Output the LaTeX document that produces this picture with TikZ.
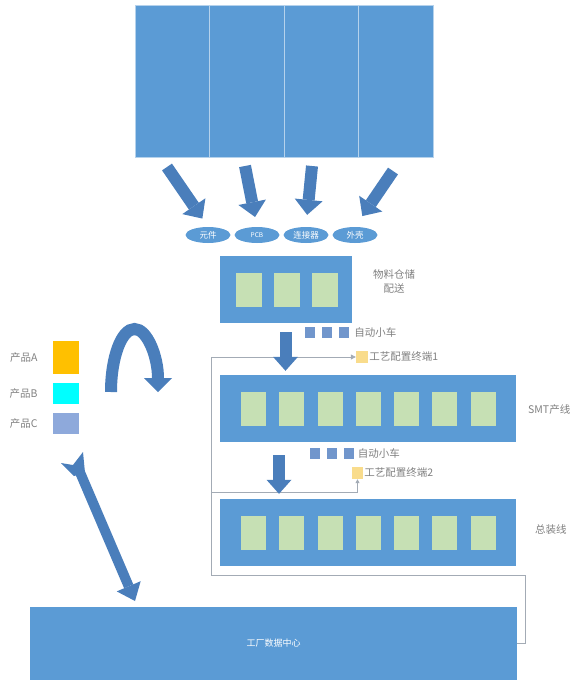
\documentclass[tikz,border=0pt]{standalone}
\usepackage{fontspec}
\setmainfont{Noto Sans CJK SC}
\usetikzlibrary{arrows.meta,positioning,shapes.geometric}
\definecolor{panelblue}{HTML}{5B9BD5}
\definecolor{arrowblue}{HTML}{4A7EBB}
\definecolor{slotgreen}{HTML}{C6E0B4}
\definecolor{cartblue}{HTML}{7196CC}
\definecolor{termyellow}{HTML}{F9DC8C}
\definecolor{wiregray}{HTML}{A3ABB5}
\definecolor{labelgray}{HTML}{808080}
\definecolor{prodA}{HTML}{FFC000}
\definecolor{prodB}{HTML}{00FFFF}
\definecolor{prodC}{HTML}{8EA9DB}
\tikzset{
    panel/.style={fill=panelblue,draw=none,inner sep=0pt},
    slot/.style={fill=slotgreen,minimum width=25pt,minimum height=34pt,inner sep=0pt},
    cart/.style={fill=cartblue,minimum width=10pt,minimum height=11pt,inner sep=0pt},
    term/.style={fill=termyellow,minimum width=12pt,minimum height=12pt,inner sep=0pt},
    swatch/.style={minimum width=26pt,minimum height=21pt,inner sep=0pt},
    tag/.style={text=labelgray,font=\fontsize{10.5}{14}\selectfont,inner sep=0pt,anchor=west},
    part/.style={ellipse,fill=panelblue,minimum width=45pt,minimum height=16pt,inner sep=0pt,text=white,font=\fontsize{8.5}{10}\selectfont},
    feed/.style={draw=arrowblue,line width=12pt,-{Triangle[length=15pt,width=28pt,line width=0pt]}},
    drop/.style={draw=arrowblue,line width=12pt,-{Triangle[length=14pt,width=25pt,line width=0pt]}},
    wire/.style={draw=wiregray,line width=0.8pt},
}
\begin{document}
\begin{tikzpicture}[x=1pt,y=-1pt]
    \useasboundingbox (0,0) rectangle (580,685);

    \foreach \i/\x in {1/172.25,2/246.75,3/321.25,4/395.75}
        \node[panel,draw=white!55!panelblue,line width=0.8pt,minimum width=74.5pt,minimum height=152pt] (c\i) at (\x,81) {};

    \node[part] (e1) at (208,235) {元件};
    \node[part,font=\fontsize{6.5}{8}\selectfont] (e2) at (257,235) {PCB};
    \node[part] (e3) at (306,235) {连接器};
    \node[part] (e4) at (355,235) {外壳};

    \coordinate (t1) at (167,167);
    \coordinate (t2) at (245,166);
    \coordinate (t3) at (312,166);
    \coordinate (t4) at (393,171);
    \draw[feed,shorten >=10pt] (t1) -- (e1.north);
    \draw[feed,shorten >=10pt] (t2) -- (e2.north);
    \draw[feed,shorten >=12pt] (t3) -- (e3.north);
    \draw[feed,shorten >=13pt] (t4) -- (e4.north);

    \node[panel,minimum width=132pt,minimum height=67pt] (store) at (286,289.5) {};
    \foreach \i in {0,1,2}
        \node[slot,minimum width=26pt] (ws\i) at (249+38*\i,290) {};
    \node[tag,anchor=center,align=center] (storelbl) at (394,282) {物料仓储\\配送};

    \foreach \i in {0,1,2}
        \node[cart] (ca\i) at (310+17*\i,332) {};
    \node[tag] (cartlbl1) [right=5pt of ca2] {自动小车};

    \node[term] (term1) at (362,357) {};
    \node[tag] (termlbl1) [right=1pt of term1] {工艺配置终端1};

    \node[panel,minimum width=296pt,minimum height=67pt] (smt) at (368,408.5) {};
    \foreach \i in {0,...,6}
        \node[slot] (sm\i) at (253.5+38.25*\i,409) {};
    \node[tag] (smtlbl) at (528,410) {SMT产线};

    \foreach \i in {0,1,2}
        \node[cart] (cb\i) at (314.5+17*\i,453.5) {};
    \node[tag] (cartlbl2) [right=4pt of cb2] {自动小车};

    \node[term,minimum width=11pt] (term2) at (357.5,473) {};
    \node[tag] (termlbl2) [right=1pt of term2] {工艺配置终端2};

    \node[panel,minimum width=296pt,minimum height=67pt] (asm) at (368,532.5) {};
    \foreach \i in {0,...,6}
        \node[slot] (as\i) at (253.5+38.25*\i,532.5) {};
    \node[tag] (asmlbl) at (535,530) {总装线};

    \node[panel,minimum width=487pt,minimum height=73pt,text=white,font=\fontsize{9}{11}\selectfont] (dc) at (273.5,643.5) {工厂数据中心};

    \coordinate (busL) at (211,575);
    \coordinate (br) at (211,492);
    \draw[wire,-{Triangle[length=5pt,width=5pt]}] (dc.east) -- ++(8,0) |- (busL) |- (term1.west);
    \draw[wire,-{Triangle[length=4pt,width=4pt]}] (br) -| (term2.south);

    \coordinate (drop1) at (285.5,323);
    \coordinate (drop2) at (279,442);
    \draw[drop,shorten <=9pt,shorten >=4pt] (drop1) -- (drop1 |- smt.north);
    \draw[drop,shorten <=13pt,shorten >=5pt] (drop2) -- (drop2 |- asm.north);

    \node[swatch,fill=prodA,minimum height=33pt] (pa) at (66,357.5) {};
    \node[swatch,fill=prodB] (pb) at (66,393.5) {};
    \node[swatch,fill=prodC] (pc) at (66,423.5) {};
    \node[tag,anchor=east] (palbl) [left=15pt of pa] {产品A};
    \node[tag,anchor=east] (pblbl) [left=15pt of pb] {产品B};
    \node[tag,anchor=east] (pclbl) [left=15pt of pc] {产品C};

    \draw[arrowblue,line width=12pt,-{Triangle[length=14pt,width=28pt,line width=0pt]}] (111,392) arc[start angle=180,end angle=360,x radius=23.5,y radius=63];

    \coordinate (mixTop) at (79,470);
    \coordinate (mixBot) at (135,601);
    \fill[arrowblue] (61,463) -- (73,465) -- (83,452) -- (85,473) -- (74,476) -- cycle;
    \draw[arrowblue,line width=10pt,-{Triangle[length=16pt,width=26pt,line width=0pt]}] (mixTop) -- (mixBot);
\end{tikzpicture}
\end{document}
